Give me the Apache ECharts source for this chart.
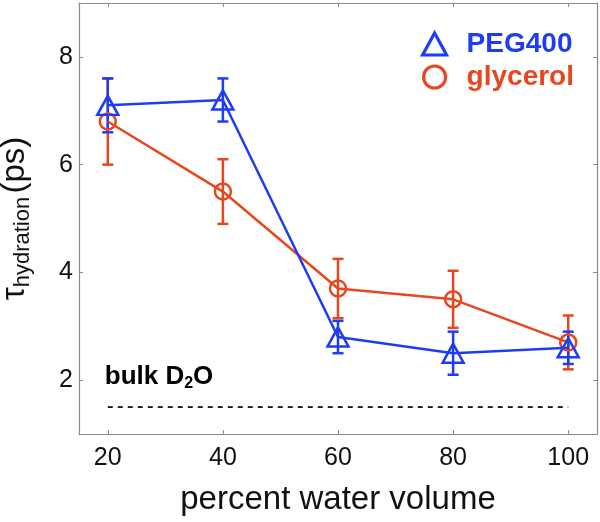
<!DOCTYPE html>
<html lang="en">
  <head>
    <meta charset="UTF-8" />
    <title>hydration time</title>
    <script src="https://cdn.jsdelivr.net/npm/echarts@6/dist/echarts.min.js"></script>
    <style>
      body { margin: 0; background: #fff; }
    </style>
  </head>
  <body>
    <div id="main" style="width: 600px;height:522px;"></div>
    <script type="text/javascript">
      // data
      var waterPct = [20, 40, 60, 80, 100];
      var pegTau = [7.1, 7.2, 2.8, 2.5, 2.6];
      var pegErr = [0.5, 0.4, 0.3, 0.4, 0.3];
      var glyTau = [6.8, 5.5, 3.7, 3.5, 2.7];
      var glyErr = [0.8, 0.6, 0.55, 0.53, 0.5];
      var bulkTau = 1.5;
      var bulkSpan = [20, 100];
      var xTicks = [20, 40, 60, 80, 100];
      var yTicks = [2, 4, 6, 8];

      var blue = "#1f3cf5";
      var orange = "#e8461e";
      var axisGray = "#8a8a8a";
      var font = "'Liberation Sans', Arial, Helvetica, sans-serif";

      function points(vals) {
        return waterPct.map(function (x, i) { return [x, vals[i]]; });
      }

      function errorBars(vals, errs, color) {
        return {
          type: "custom",
          z: 3,
          data: waterPct.map(function (x, i) {
            return [x, vals[i] - errs[i], vals[i] + errs[i]];
          }),
          renderItem: function (params, api) {
            var lo = api.coord([api.value(0), api.value(1)]);
            var hi = api.coord([api.value(0), api.value(2)]);
            var w = 5.5;
            var st = { stroke: color, lineWidth: 2.5 };
            return {
              type: "group",
              children: [
                { type: "line", shape: { x1: lo[0], y1: lo[1], x2: hi[0], y2: hi[1] }, style: st },
                { type: "line", shape: { x1: lo[0] - w, y1: lo[1], x2: lo[0] + w, y2: lo[1] }, style: st },
                { type: "line", shape: { x1: hi[0] - w, y1: hi[1], x2: hi[0] + w, y2: hi[1] }, style: st }
              ]
            };
          }
        };
      }

      var tickStyle = { inside: true, length: 4, lineStyle: { color: axisGray } };
      var lineStyleAxis = { show: true, onZero: false, lineStyle: { color: axisGray, width: 1.2 } };

      var myChart = echarts.init(document.getElementById("main"));
      myChart.setOption({
        animation: false,
        grid: { left: 79, right: 3, top: 3, bottom: 88, containLabel: false, outerBoundsMode: "none" },
        legend: {
          orient: "vertical",
          left: 416,
          top: 25,
          itemWidth: 24,
          itemHeight: 22,
          itemGap: 5,
          textStyle: { fontFamily: font, fontSize: 28, fontWeight: "bold", padding: [0, 0, 0, 15] },
          data: [
            {
              name: "PEG400",
              icon: "triangle",
              itemStyle: { color: "rgba(255,255,255,0)", borderColor: blue, borderWidth: 3.2 },
              textStyle: { color: blue }
            },
            {
              name: "glycerol",
              icon: "circle",
              itemStyle: { color: "rgba(255,255,255,0)", borderColor: orange, borderWidth: 3.2 },
              textStyle: { color: orange }
            }
          ]
        },
        xAxis: [
          {
            type: "value",
            min: 15,
            max: 105,
            position: "bottom",
            axisLine: lineStyleAxis,
            axisTick: Object.assign({ customValues: xTicks }, tickStyle),
            axisLabel: { customValues: xTicks, fontFamily: font, fontSize: 25, color: "#111", margin: 12 },
            splitLine: { show: false },
            name: "percent water volume",
            nameLocation: "middle",
            nameGap: 49,
            nameTextStyle: { fontFamily: font, fontSize: 33, color: "#111" }
          },
          {
            type: "value",
            min: 15,
            max: 105,
            position: "top",
            axisLine: lineStyleAxis,
            axisTick: Object.assign({ customValues: xTicks }, tickStyle),
            axisLabel: { show: false },
            splitLine: { show: false }
          }
        ],
        yAxis: [
          {
            type: "value",
            min: 1,
            max: 9,
            position: "left",
            axisLine: lineStyleAxis,
            axisTick: Object.assign({ customValues: yTicks }, tickStyle),
            axisLabel: { customValues: yTicks, fontFamily: font, fontSize: 25, color: "#111", margin: 6 },
            splitLine: { show: false },
            name: "{t|τ}{s|hydration} {t|(ps)}",
            nameLocation: "middle",
            nameRotate: 90,
            nameGap: 48,
            nameTextStyle: {
              fontFamily: font,
              color: "#111",
              rich: {
                t: { fontFamily: font, fontSize: 33, color: "#111", verticalAlign: "bottom" },
                s: { fontFamily: font, fontSize: 22, color: "#111", verticalAlign: "bottom", padding: [0, 0, -3, 0] }
              }
            }
          },
          {
            type: "value",
            min: 1,
            max: 9,
            position: "right",
            axisLine: lineStyleAxis,
            axisTick: Object.assign({ customValues: yTicks }, tickStyle),
            axisLabel: { show: false },
            splitLine: { show: false }
          }
        ],
        series: [
          {
            type: "line",
            data: bulkSpan.map(function (x) { return [x, bulkTau]; }),
            symbol: "none",
            silent: true,
            lineStyle: { color: "#111", width: 1.8, type: [5, 5] },
            z: 1
          },
          {
            type: "scatter",
            data: [[20, 2.06]],
            symbolSize: 0,
            silent: true,
            itemStyle: { opacity: 1 },
            label: {
              show: true,
              opacity: 1,
              position: "inside",
              align: "left",
              offset: [-3, 0],
              formatter: "{b|bulk D}{s|2}{b|O}",
              rich: {
                b: { fontFamily: font, fontSize: 26, fontWeight: "bold", color: "#000", verticalAlign: "bottom" },
                s: { fontFamily: font, fontSize: 16, fontWeight: "bold", color: "#000", verticalAlign: "bottom", padding: [0, 0, -2, 0] }
              }
            }
          },
          errorBars(glyTau, glyErr, orange),
          {
            name: "glycerol",
            type: "line",
            data: points(glyTau),
            symbol: "circle",
            symbolSize: 16,
            color: orange,
            lineStyle: { color: orange, width: 2.5 },
            itemStyle: { color: "rgba(255,255,255,0)", borderColor: orange, borderWidth: 2.5 },
            z: 4
          },
          errorBars(pegTau, pegErr, blue),
          {
            name: "PEG400",
            type: "line",
            data: points(pegTau),
            symbol: "triangle",
            symbolSize: [21, 19],
            color: blue,
            lineStyle: { color: blue, width: 2.5 },
            itemStyle: { color: "rgba(255,255,255,0)", borderColor: blue, borderWidth: 2.5 },
            z: 6
          }
        ]
      });
    </script>
  </body>
</html>
